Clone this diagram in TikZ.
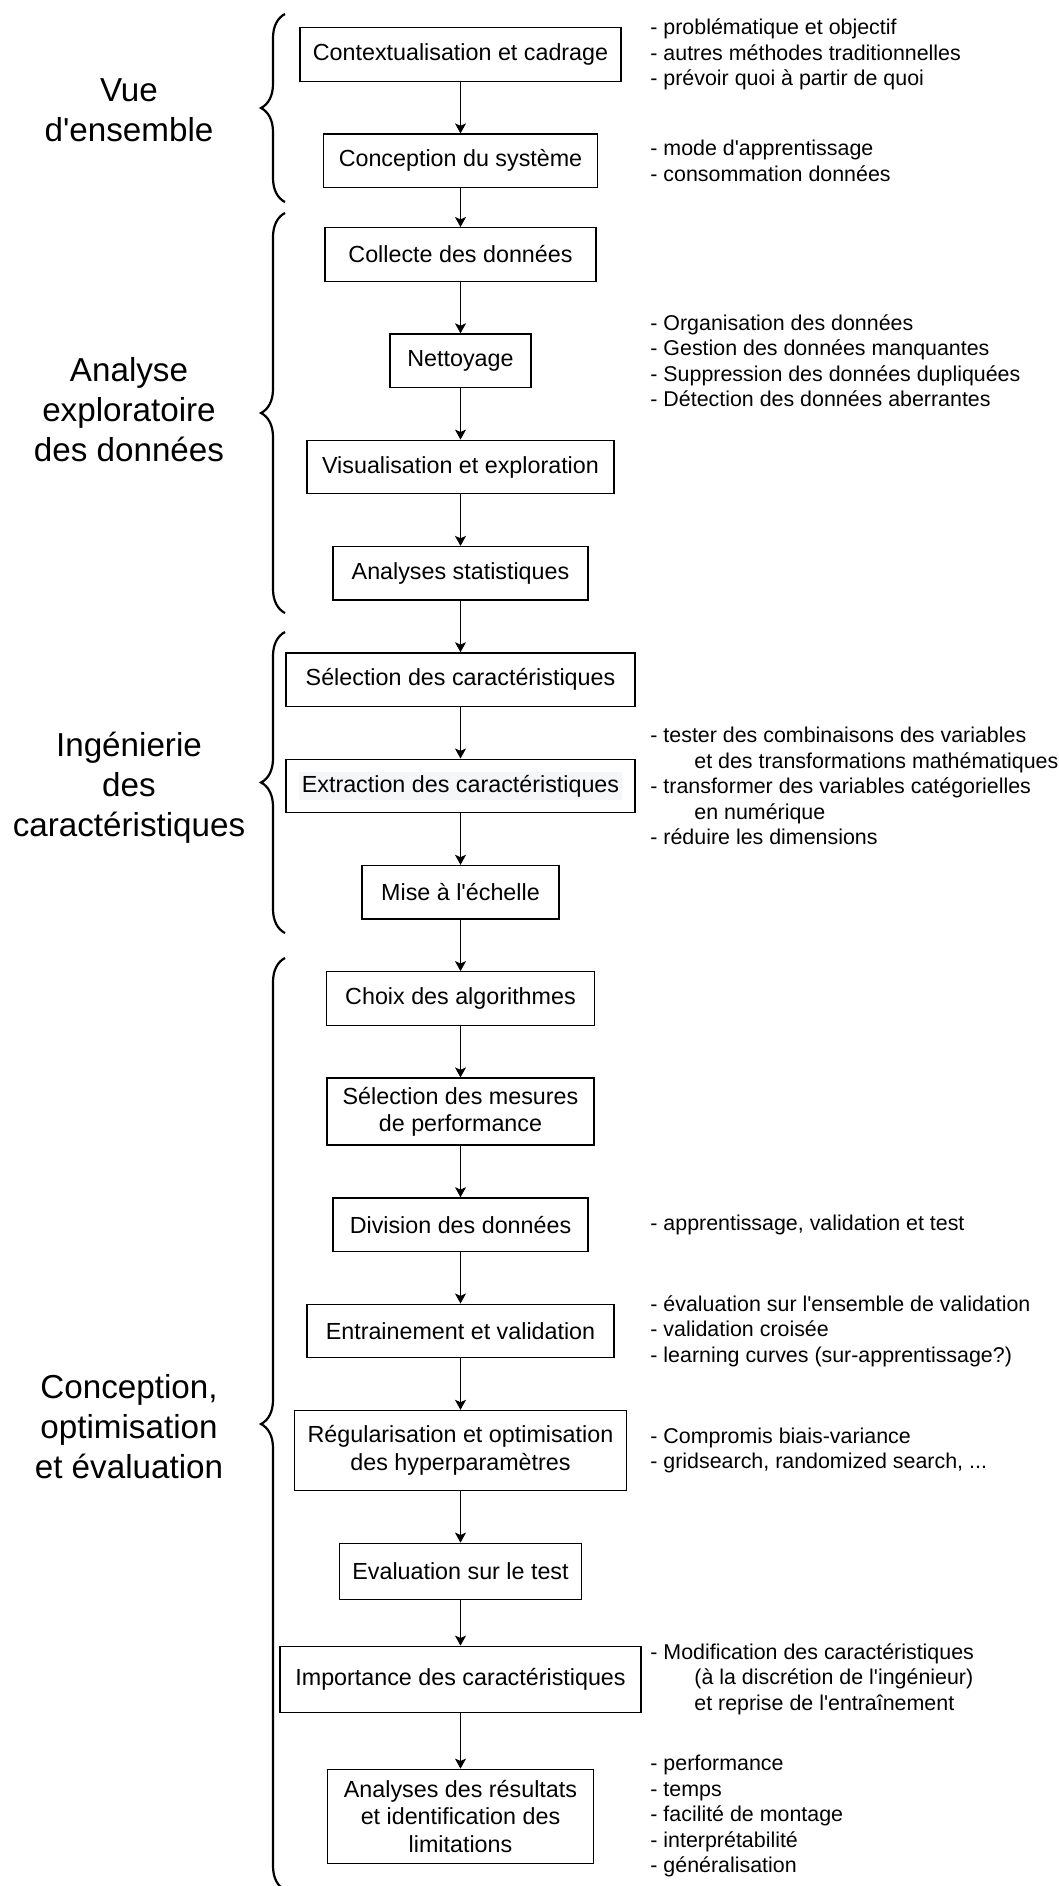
\documentclass[tikz,border=0pt]{standalone}
\usepackage{fontspec}
\setmainfont{Liberation Sans}[Ligatures=TeXOff]
\usetikzlibrary{arrows.meta,positioning,decorations.pathreplacing}
\definecolor{hlgray}{HTML}{F5F6F8}

\begin{document}
\begin{tikzpicture}[
x=0.5pt, y=-0.5pt,
node distance=25.75pt,
box/.style={draw, line width=0.65pt, align=center, font=\fontsize{11.65}{13.7}\selectfont, minimum height=26.75pt},
note/.style={anchor=west, align=left, inner sep=0pt, font=\fontsize{10.7}{12.75}\selectfont},
phase/.style={align=center, font=\fontsize{16.6}{20}\selectfont},
arrow/.style={-{Stealth[length=5pt, width=5.5pt, inset=1.2pt]}, line width=0.5pt},
curly/.style={decorate, decoration={brace, amplitude=12pt}, line width=1.1pt}
]
\useasboundingbox (0,0) rectangle (1059,1886);

\node[box, minimum width=160.5pt] (ctx) at (460.5,54.5) {Contextualisation et cadrage};
\node[box, minimum width=137pt, below=of ctx] (sys) {Conception du système};
\node[box, minimum width=135.5pt, below=19.4pt of sys] (coll) {Collecte des données};
\node[box, minimum width=70.5pt, below=of coll] (nett) {Nettoyage};
\node[box, minimum width=153.5pt, below=of nett] (visu) {Visualisation et exploration};
\node[box, minimum width=127.5pt, below=of visu] (stat) {Analyses statistiques};
\node[box, minimum width=174.5pt, below=of stat] (sel) {Sélection des caractéristiques};
\node[box, minimum width=174.5pt, below=of sel] (ext) {{\fboxsep=1.5pt\colorbox{hlgray}{Extraction des caractéristiques}}};
\node[box, minimum width=98.5pt, below=of ext] (mise) {Mise à l'échelle};
\node[box, minimum width=134pt, below=of mise] (algo) {Choix des algorithmes};
\node[box, minimum width=133.5pt, minimum height=33.5pt, below=of algo] (mes) {Sélection des mesures\\de performance};
\node[box, minimum width=127.5pt, below=of mes] (div) {Division des données};
\node[box, minimum width=153.5pt, below=of div] (train) {Entrainement et validation};
\node[box, minimum width=166pt, minimum height=40pt, below=of train] (reg) {Régularisation et optimisation\\des hyperparamètres};
\node[box, minimum width=121pt, minimum height=28pt, below=of reg] (test) {Evaluation sur le test};
\node[box, minimum width=180.5pt, minimum height=33pt, below=22.85pt of test] (imp) {Importance des caractéristiques};
\node[box, minimum width=133pt, minimum height=47pt, below=27.85pt of imp] (res) {Analyses des résultats\\et identification des\\limitations};

\draw[arrow] (ctx) -- (sys);
\draw[arrow] (sys) -- (coll);
\draw[arrow] (coll) -- (nett);
\draw[arrow] (nett) -- (visu);
\draw[arrow] (visu) -- (stat);
\draw[arrow] (stat) -- (sel);
\draw[arrow] (sel) -- (ext);
\draw[arrow] (ext) -- (mise);
\draw[arrow] (mise) -- (algo);
\draw[arrow] (algo) -- (mes);
\draw[arrow] (mes) -- (div);
\draw[arrow] (div) -- (train);
\draw[arrow] (train) -- (reg);
\draw[arrow] (reg) -- (test);
\draw[arrow] (test) -- (imp);
\draw[arrow] (imp) -- (res);

\coordinate (nx) at (650,0);
\node[note] (ctxnote) at (ctx -| nx) {- problématique et objectif\\- autres méthodes traditionnelles\\- prévoir quoi à partir de quoi};
\node[note] (sysnote) at (sys -| nx) {- mode d'apprentissage\\- consommation données};
\node[note] (nettnote) at (nett -| nx) {- Organisation des données\\- Gestion des données manquantes\\- Suppression des données dupliquées\\- Détection des données aberrantes};
\node[note] (extnote) at (ext -| nx) {- tester des combinaisons des variables\\\hspace*{22pt}et des transformations mathématiques\\- transformer des variables catégorielles\\\hspace*{22pt}en numérique\\- réduire les dimensions};
\node[note] (divnote) at (div -| nx) {- apprentissage, validation et test};
\node[note] (trainnote) at (train -| nx) {- évaluation sur l'ensemble de validation\\- validation croisée\\- learning curves (sur-apprentissage?)};
\node[note] (regnote) at (reg -| nx) {- Compromis biais-variance\\- gridsearch, randomized search, ...};
\node[note] (impnote) at (imp -| nx) {- Modification des caractéristiques\\\hspace*{22pt}(à la discrétion de l'ingénieur)\\\hspace*{22pt}et reprise de l'entraînement};
\node[note] (resnote) at (res -| nx) {- performance\\- temps\\- facilité de montage\\- interprétabilité\\- généralisation};

\draw[curly] (285,202) -- (285,14);
\draw[curly] (285,613) -- (285,213);
\draw[curly] (285,933) -- (285,632);
\draw[curly] (285,1890) -- (285,958);

\node[phase] (vue) at (129,110) {Vue\\d'ensemble};
\node[phase] (eda) at (129,410) {Analyse\\exploratoire\\des données};
\node[phase] (feat) at (129,788) {Ingénierie\\des\\caractéristiques};
\node[phase] (model) at (129,1427) {Conception,\\optimisation\\et évaluation};
\end{tikzpicture}
\end{document}
